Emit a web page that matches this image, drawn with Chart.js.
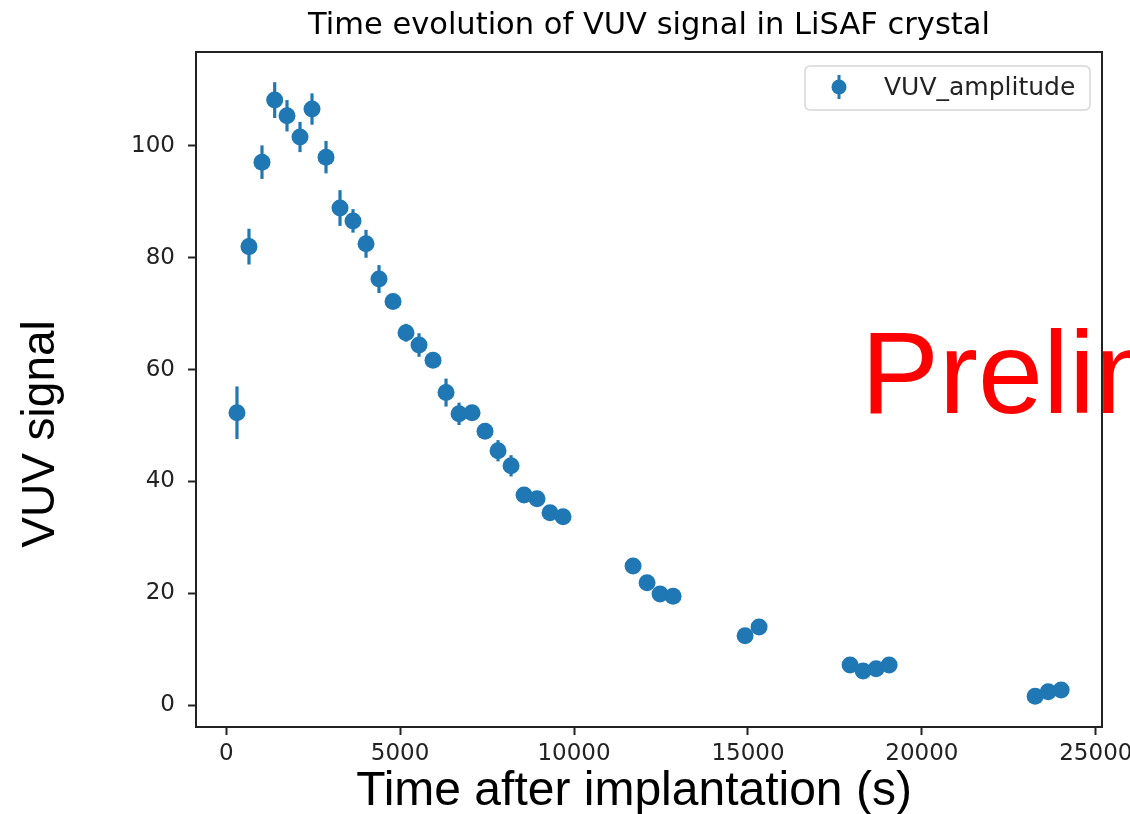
<!DOCTYPE html>
<html>
<head>
<meta charset="utf-8">
<script src="https://cdn.jsdelivr.net/npm/chart.js@4.4.1/dist/chart.umd.min.js"></script>
<style>
  html, body { margin: 0; padding: 0; background: #fff; }
  #wrap { width: 1130px; height: 814px; }
</style>
</head>
<body>
<div id="wrap"><canvas id="vuvChart" width="1130" height="814"></canvas></div>
<script>
const timeValues = [
  310, 655, 1029, 1394, 1748, 2122, 2467, 2870, 3272, 3646,
  4020, 4393, 4796, 5170, 5544, 5946, 6320, 6694, 7068, 7441,
  7815, 8189, 8563, 8936, 9310, 9684,
  11697, 12099, 12473, 12847,
  14917, 15320,
  17936, 18310, 18684, 19058,
  23256, 23630, 24004
];
const vuvValues = [
  52.3, 82.0, 97.1, 108.2, 105.4, 101.6, 106.6, 98.0, 88.9, 86.6,
  82.5, 76.2, 72.2, 66.6, 64.4, 61.7, 55.9, 52.1, 52.3, 49.0,
  45.5, 42.8, 37.6, 36.9, 34.4, 33.7,
  24.9, 21.9, 19.9, 19.5,
  12.4, 14.0,
  7.2, 6.1, 6.5, 7.2,
  1.6, 2.4, 2.7
];
const vuvErrors = [
  4.7, 3.2, 3.0, 3.2, 2.8, 2.7, 2.8, 2.9, 3.2, 2.1,
  2.5, 2.5, 1.3, 1.6, 2.1, 1.2, 2.5, 2.0, 1.3, 1.2,
  1.9, 1.9, 1.2, 1.2, 1.2, 1.2,
  1.0, 1.0, 1.0, 1.0,
  0.9, 0.9,
  0.8, 0.8, 0.8, 0.8,
  0.7, 0.7, 0.7
];
const xTickValues = [0, 5000, 10000, 15000, 20000, 25000];
const yTickValues = [0, 20, 40, 60, 80, 100];

const BLUE = '#1f77b4';
const AXIS_COLOR = '#222';

// error bars under the markers
const errorBarPlugin = {
  id: 'errorBars',
  beforeDatasetsDraw(chart) {
    const { ctx, scales: { x, y } } = chart;
    ctx.save();
    ctx.strokeStyle = BLUE;
    ctx.lineWidth = 3.2;
    timeValues.forEach((t, i) => {
      const px = x.getPixelForValue(t);
      ctx.beginPath();
      ctx.moveTo(px, y.getPixelForValue(vuvValues[i] - vuvErrors[i]));
      ctx.lineTo(px, y.getPixelForValue(vuvValues[i] + vuvErrors[i]));
      ctx.stroke();
    });
    ctx.restore();
  }
};

// frame, legend, titles and the watermark
const decorPlugin = {
  id: 'decor',
  afterDatasetsDraw(chart) {
    const { ctx, chartArea: a } = chart;
    ctx.save();
    ctx.strokeStyle = AXIS_COLOR;
    ctx.lineWidth = 2;
    ctx.strokeRect(a.left, a.top, a.right - a.left, a.bottom - a.top);
    ctx.restore();
  },
  afterDraw(chart) {
    const { ctx, chartArea: a } = chart;
    ctx.save();

    // legend box
    const lx = 805, ly = 66, lw = 285, lh = 44;
    ctx.fillStyle = 'rgba(255,255,255,0.8)';
    ctx.strokeStyle = '#d6d6d6';
    ctx.lineWidth = 1.5;
    ctx.beginPath();
    ctx.roundRect(lx, ly, lw, lh, 5);
    ctx.fill();
    ctx.stroke();
    ctx.strokeStyle = BLUE;
    ctx.lineWidth = 3;
    ctx.beginPath();
    ctx.moveTo(839, 75);
    ctx.lineTo(839, 99);
    ctx.stroke();
    ctx.fillStyle = BLUE;
    ctx.beginPath();
    ctx.arc(839, 87, 7.5, 0, Math.PI * 2);
    ctx.fill();
    ctx.fillStyle = AXIS_COLOR;
    ctx.font = '25px "DejaVu Sans"';
    ctx.textBaseline = 'middle';
    ctx.textAlign = 'left';
    ctx.fillText(chart.data.datasets[0].label, 884, 88);

    // title
    ctx.font = '30.5px "DejaVu Sans"';
    ctx.textAlign = 'center';
    ctx.textBaseline = 'alphabetic';
    ctx.fillStyle = '#000';
    ctx.fillText('Time evolution of VUV signal in LiSAF crystal', (a.left + a.right) / 2, 34);

    // axis labels
    ctx.font = '48px "Liberation Sans"';
    ctx.fillText('Time after implantation (s)', 634, 805);
    ctx.save();
    ctx.translate(54, 434);
    ctx.rotate(-Math.PI / 2);
    ctx.font = '46px "Liberation Sans"';
    ctx.fillText('VUV signal', 0, 0);
    ctx.restore();

    // watermark
    ctx.fillStyle = '#ff0000';
    ctx.font = '117px "Liberation Sans"';
    ctx.textAlign = 'left';
    ctx.fillText('Preliminary', 861, 413);
    ctx.restore();
  }
};

const ctx = document.getElementById('vuvChart').getContext('2d');
new Chart(ctx, {
  type: 'scatter',
  data: {
    datasets: [{
      label: 'VUV_amplitude',
      data: timeValues.map((t, i) => ({ x: t, y: vuvValues[i] })),
      backgroundColor: BLUE,
      borderColor: BLUE,
      borderWidth: 0,
      pointRadius: 8.5,
      pointHoverRadius: 8.5
    }]
  },
  options: {
    responsive: false,
    animation: false,
    devicePixelRatio: 1,
    layout: { padding: { top: 52, right: 28, left: 0, bottom: 0 } },
    plugins: {
      legend: { display: false },
      title: { display: false },
      tooltip: { enabled: false }
    },
    scales: {
      x: {
        type: 'linear',
        min: -868,
        max: 25178,
        afterBuildTicks: axis => { axis.ticks = xTickValues.map(v => ({ value: v })); },
        afterFit: scale => {
          scale.height = 87;
          scale.paddingLeft = 0;
          scale.paddingRight = 0;
        },
        grid: { display: true, drawOnChartArea: false, tickLength: 8, tickWidth: 2, tickColor: AXIS_COLOR },
        border: { display: true, color: AXIS_COLOR, width: 2 },
        ticks: {
          color: AXIS_COLOR,
          font: { family: 'DejaVu Sans', size: 23 },
          padding: 5,
          maxRotation: 0,
          autoSkip: false,
          callback: v => String(v)
        }
      },
      y: {
        type: 'linear',
        min: -3.9,
        max: 116.8,
        afterBuildTicks: axis => { axis.ticks = yTickValues.map(v => ({ value: v })); },
        afterFit: scale => {
          scale.width = 196;
          scale.paddingTop = 0;
          scale.paddingBottom = 0;
        },
        grid: { display: true, drawOnChartArea: false, tickLength: 8, tickWidth: 2, tickColor: AXIS_COLOR },
        border: { display: true, color: AXIS_COLOR, width: 2 },
        ticks: {
          color: AXIS_COLOR,
          font: { family: 'DejaVu Sans', size: 23 },
          padding: 13,
          autoSkip: false,
          callback: v => String(v)
        }
      }
    }
  },
  plugins: [errorBarPlugin, decorPlugin]
});
</script>
</body>
</html>
